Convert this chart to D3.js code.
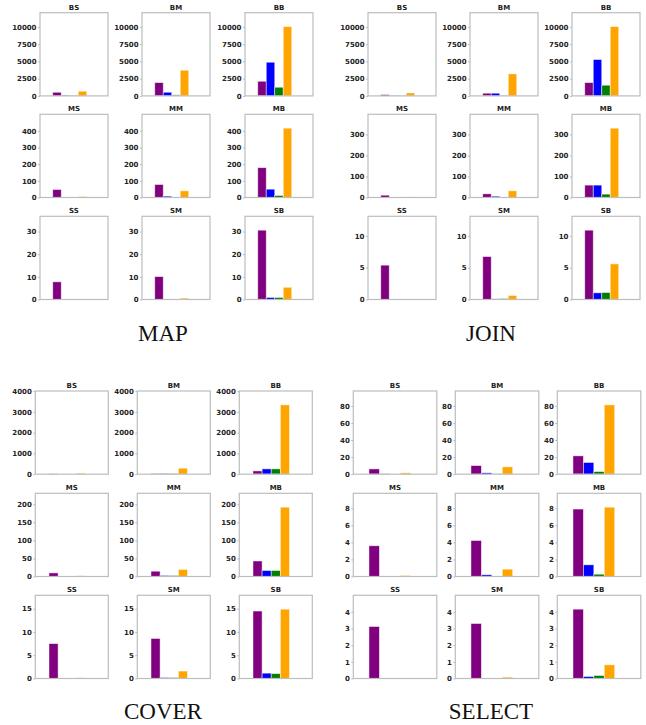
<!DOCTYPE html>
<html>
<head>
<meta charset="utf-8">
<script src="https://cdn.jsdelivr.net/npm/d3@7"></script>
<style>
  body { margin: 0; background: #fff; }
  svg { display: block; }
</style>
</head>
<body>
<div id="chart"></div>
<script>
// panel names, row by row
const panels = ["BS", "BM", "BB", "MS", "MM", "MB", "SS", "SM", "SB"];
const colors = ["#800080", "#0000ff", "#008000", "#ffa500"];

// values per panel: [purple, blue, green, orange]
const mapValues = [
  [530, 100, 50, 680], [1930, 530, 145, 3720], [2125, 4880, 1256, 10050],
  [48, 2, 0.5, 6], [78, 8, 2, 40], [179, 50, 12, 416],
  [7.8, 0.05, 0.05, 0.15], [10.1, 0.1, 0.1, 0.6], [30.6, 0.9, 0.9, 5.4]
];
const joinValues = [
  [190, 50, 20, 430], [390, 390, 50, 3190], [1930, 5270, 1550, 10050],
  [11, 0.5, 0.3, 3], [17.5, 6, 1.5, 32], [59, 59, 16, 330],
  [5.4, 0.02, 0.05, 0.05], [6.75, 0.1, 0.15, 0.63], [10.9, 1.05, 1.1, 5.6]
];
const coverValues = [
  [16, 2, 2, 48], [32, 32, 32, 290], [160, 257, 257, 3340],
  [10, 0.3, 0.3, 2], [14.7, 2.8, 2.8, 19.4], [43, 16.6, 16.6, 192],
  [7.5, 0.02, 0.02, 0.15], [8.6, 0.2, 0.2, 1.6], [14.5, 1.15, 1.05, 14.9]
];
const selectValues = [
  [6.2, 0.4, 0.1, 1.6], [10.1, 1.6, 0.4, 8.6], [21.5, 13.7, 3.1, 81.2],
  [3.6, 0.03, 0.03, 0.12], [4.22, 0.2, 0.05, 0.86], [7.9, 1.37, 0.27, 8.12],
  [3.12, 0.01, 0.01, 0.02], [3.3, 0.02, 0.03, 0.08], [4.16, 0.12, 0.18, 0.82]
];

// y tick labels per row
const mapTicks = [[0, 2500, 5000, 7500, 10000], [0, 100, 200, 300, 400], [0, 10, 20, 30]];
const joinTicks = [[0, 2500, 5000, 7500, 10000], [0, 100, 200, 300], [0, 5, 10]];
const coverTicks = [[0, 1000, 2000, 3000, 4000], [0, 50, 100, 150, 200], [0, 5, 10, 15]];
const selectTicks = [[0, 20, 40, 60, 80], [0, 2, 4, 6, 8], [0, 1, 2, 3, 4]];

const groupNames = ["MAP", "JOIN", "COVER", "SELECT"];

const W = 646, H = 725;
const svg = d3.select("#chart").append("svg")
  .attr("width", W)
  .attr("height", H);

// layout of each group
const layout = [
  {values: mapValues, ticks: mapTicks, cols: [40, 142, 245], w: 68, rows: [12.7, 114.3, 216.3], tx: 163, ty: 341},
  {values: joinValues, ticks: joinTicks, cols: [368, 470, 572], w: 68, rows: [12.7, 114.3, 216.3], tx: 491, ty: 341},
  {values: coverValues, ticks: coverTicks, cols: [35.3, 137.3, 239.3], w: 73, rows: [391, 493.3, 595.3], tx: 163, ty: 719},
  {values: selectValues, ticks: selectTicks, cols: [353.3, 455.3, 557.3], w: 83.5, rows: [391, 493.3, 595.3], tx: 491, ty: 719}
];
const ph = 83.2;

layout.forEach((g, gi) => {
  const rowMax = [0, 1, 2].map(r => d3.max(g.values.slice(r * 3, r * 3 + 3).flat()));

  panels.forEach((name, pi) => {
    const r = Math.floor(pi / 3), c = pi % 3;
    const left = g.cols[c], top = g.rows[r];

    const x = d3.scaleLinear().domain([-2, 6]).range([0, g.w]);
    const y = d3.scaleLinear().domain([0, rowMax[r] * 1.2]).range([ph, 0]);

    const panel = svg.append("g")
      .attr("transform", `translate(${left},${top})`);

    panel.selectAll("rect.bar")
      .data(g.values[pi])
      .enter()
      .append("rect")
      .attr("class", "bar")
      .attr("x", (d, i) => x(i - 0.5))
      .attr("width", (d, i) => x(i + 0.5) - x(i - 0.5))
      .attr("y", d => y(d))
      .attr("height", d => ph - y(d))
      .attr("fill", (d, i) => colors[i])
      .attr("stroke", "#fff")
      .attr("stroke-opacity", 0.6)
      .attr("stroke-width", 0.8);

    const yAxis = d3.axisLeft(y)
      .tickValues(g.ticks[r])
      .tickSize(2)
      .tickPadding(1.5)
      .tickFormat(d3.format("d"));

    const ax = panel.append("g").call(yAxis);
    ax.select(".domain").remove();
    ax.selectAll(".tick line").attr("stroke", "#bbb");
    ax.selectAll(".tick text")
      .attr("fill", "#222")
      .style("font-family", "DejaVu Sans")
      .style("font-weight", "bold")
      .style("font-size", "7px");

    panel.append("rect")
      .attr("width", g.w)
      .attr("height", ph)
      .attr("fill", "none")
      .attr("stroke", "#bdbdbd")
      .attr("stroke-width", 1.2);

    panel.append("text")
      .attr("x", g.w / 2)
      .attr("y", -3)
      .attr("text-anchor", "middle")
      .style("font-family", "DejaVu Sans")
      .style("font-weight", "bold")
      .style("font-size", "7px")
      .attr("fill", "#222")
      .text(name);
  });

  svg.append("text")
    .attr("x", g.tx)
    .attr("y", g.ty)
    .attr("text-anchor", "middle")
    .style("font-family", "Liberation Serif")
    .style("font-size", "23px")
    .attr("fill", "#111")
    .text(groupNames[gi]);
});
</script>
</body>
</html>
